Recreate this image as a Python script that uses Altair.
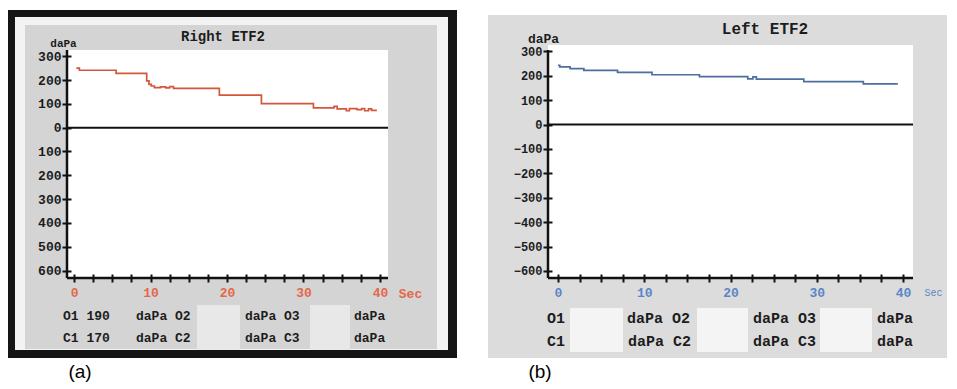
import altair as alt
import pandas as pd

# ---------------- data ----------------
right_t = [0.3, 0.7, 5.5, 9.5, 9.8, 10.1, 10.5, 11.3, 12.0, 12.5, 13.0, 13.4,
           19.0, 24.5, 31.3, 34.0, 34.4, 35.6, 36.0, 37.0, 37.6, 38.0, 38.5, 38.9, 39.6]
right_v = [250, 241, 228, 196, 182, 175, 168, 171, 167, 172, 165, 165,
           137, 101, 83, 89, 79, 71, 80, 76, 80, 71, 79, 73, 73]

left_t = [0.0, 0.2, 1.4, 3.0, 6.9, 10.9, 16.4, 22.0, 22.6, 23.0, 28.5, 35.4, 39.4]
left_v = [243, 236, 229, 222, 214, 204, 196, 187, 195, 186, 176, 167, 167]

y_ticks = [-600, -500, -400, -300, -200, -100, 0, 100, 200, 300]
x_ticks = [0, 2.5, 5, 7.5, 10, 12.5, 15, 17.5, 20, 22.5, 25, 27.5, 30, 32.5, 35, 37.5, 40]

right_title = "Right ETF2"
left_title = "Left ETF2"
right_open = ["190", "", ""]
right_close = ["170", "", ""]
left_open = ["", "", ""]
left_close = ["", "", ""]

MONO = "Liberation Mono"
INK = "#1c1c1c"

df_a = pd.DataFrame({"t": right_t, "v": right_v})
df_b = pd.DataFrame({"t": left_t, "v": left_v})
zero = pd.DataFrame({"v": [0]})


def rect(x, x2, y, y2, color):
    return alt.Chart(alt.Data(values=[{}])).mark_rect(color=color, strokeWidth=0).encode(
        x=alt.value(x), x2=alt.value(x2), y=alt.value(y), y2=alt.value(y2))


def rule(x, x2, y, y2, width=2.5):
    return alt.Chart(alt.Data(values=[{}])).mark_rule(color="#111", strokeWidth=width).encode(
        x=alt.value(x), x2=alt.value(x2), y=alt.value(y), y2=alt.value(y2))


def txt(s, x, y, size, color=INK, font=MONO, weight="bold", align="left"):
    return alt.Chart(alt.Data(values=[{}])).mark_text(
        text=s, font=font, fontSize=size, fontWeight=weight, color=color,
        align=align, baseline="middle").encode(x=alt.value(x), y=alt.value(y))


def panel(df, W, H, xdom, ydom, line_color, label_color, ylabel_expr,
          ysize, xsize, sec_size, sec_weight, sec_xy, dapa_xy, dapa_size):
    xscale = alt.Scale(domain=xdom, nice=False, zero=False)
    yscale = alt.Scale(domain=ydom, nice=False, zero=False)
    yaxis = alt.Axis(values=y_ticks, labelExpr=ylabel_expr, domain=False, grid=False,
                     offset=-4, tickSize=9, tickWidth=2, tickColor="#111",
                     labelFont=MONO, labelFontSize=ysize, labelFontWeight="bold",
                     labelColor=INK, labelPadding=1,
                     title="daPa", titleAngle=0, titleX=dapa_xy[0], titleY=dapa_xy[1],
                     titleFont=MONO, titleFontSize=dapa_size, titleFontWeight="bold",
                     titleColor=INK, titleAlign="center", titleBaseline="middle", zindex=1)
    xaxis = alt.Axis(values=x_ticks, labelExpr="datum.value % 10 == 0 ? datum.label : ''",
                     domain=False, grid=False, offset=-4, tickSize=8, tickWidth=2,
                     tickColor="#111", labelFont=MONO, labelFontSize=xsize,
                     labelFontWeight="bold", labelColor=label_color, labelPadding=4,
                     labelFlush=False, labelOverlap=False,
                     title="Sec", titleX=sec_xy[0], titleY=sec_xy[1], titleFont=MONO,
                     titleFontSize=sec_size, titleFontWeight=sec_weight,
                     titleColor=label_color, titleAlign="center", titleBaseline="middle",
                     zindex=1)
    zero_rule = alt.Chart(zero).mark_rule(color="#111", strokeWidth=2).encode(
        y=alt.Y("v:Q", scale=yscale, axis=yaxis), x=alt.value(0), x2=alt.value(W))
    line = alt.Chart(df).mark_line(color=line_color, strokeWidth=1.7,
                                   interpolate="step-after").encode(
        x=alt.X("t:Q", scale=xscale, axis=xaxis),
        y=alt.Y("v:Q", scale=yscale, axis=yaxis))
    axis_lines = [rule(0, 0, 0, H), rule(0, W, H, H)]
    return zero_rule, line, axis_lines


# ---------------- panel (a) ----------------
WA, HA = 321, 228
za, la, axa = panel(df_a, WA, HA, [-0.92, 41.05], [-631, 326], "#d4573a", "#e3684a",
                    "abs(datum.value)", 13, 13, 13, "bold", (343, 19), (-8, -7), 11)
bg_a = [
    rect(-59, 390, -40, 308, "#151515"),
    rect(-52, 381, -33, 300, "#f3f3f3"),
    rect(-42, 370, -25, 299, "#d4d4d4"),
    rect(0, WA, 0, HA, "#ffffff"),
    rect(130, 173, 255, 300, "#e8e8e8"),
    rect(243, 283, 255, 300, "#e8e8e8"),
]
texts_a = [
    txt(right_title, 156, -13, 14, align="center"),
    txt("O1 " + right_open[0], -4, 266, 13),
    txt("daPa O2 " + right_open[1], 69, 266, 13),
    txt("daPa O3 " + right_open[2], 178, 266, 13),
    txt("daPa", 287, 266, 13),
    txt("C1 " + right_close[0], -4, 288, 13),
    txt("daPa C2 " + right_close[1], 69, 288, 13),
    txt("daPa C3 " + right_close[2], 178, 288, 13),
    txt("daPa", 287, 288, 13),
    txt("(a)", 13, 322, 19, color="#000", font="Liberation Sans", weight="normal",
        align="center"),
]
panel_a = alt.layer(*bg_a, za, *axa, la, *texts_a).properties(width=WA, height=HA)

# ---------------- panel (b) ----------------
WB, HB = 365, 228
zb, lb, axb = panel(df_b, WB, HB, [-1.16, 41.16], [-629, 305.5], "#4d6f9f", "#5a86c8",
                    "datum.label", 12, 13, 10, "normal", (385, 18), (-9, -12), 13)
bg_b = [
    rect(-60, 399, -35, 308, "#dcdcdc"),
    rect(0, WB, -5, HB, "#ffffff"),
    rect(22, 75, 258, 302, "#f4f4f4"),
    rect(149, 200, 258, 302, "#f4f4f4"),
    rect(272, 324, 258, 302, "#f4f4f4"),
]
texts_b = [
    txt(left_title, 217, -21, 16, align="center"),
    txt("O1" + left_open[0], -1, 268, 15),
    txt("daPa O2" + left_open[1], 79, 268, 15),
    txt("daPa O3" + left_open[2], 205, 268, 15),
    txt("daPa", 329, 268, 15),
    txt("C1" + left_close[0], -1, 291, 15),
    txt("daPa C2" + left_close[1], 80, 291, 15),
    txt("daPa C3" + left_close[2], 205, 291, 15),
    txt("daPa", 329, 291, 15),
    txt("(b)", -8, 322, 19, color="#000", font="Liberation Sans", weight="normal",
        align="center"),
]
panel_b = alt.layer(*bg_b, zb, *axb, lb, *texts_b).properties(width=WB, height=HB)

chart = alt.hconcat(panel_a, panel_b, spacing=160, bounds="flush").properties(
    padding={"left": 0, "top": 2, "right": 0, "bottom": 0},
    background="#ffffff",
).configure_view(strokeWidth=0)

chart.save("out.html", embed_options={"renderer": "svg", "actions": False})
